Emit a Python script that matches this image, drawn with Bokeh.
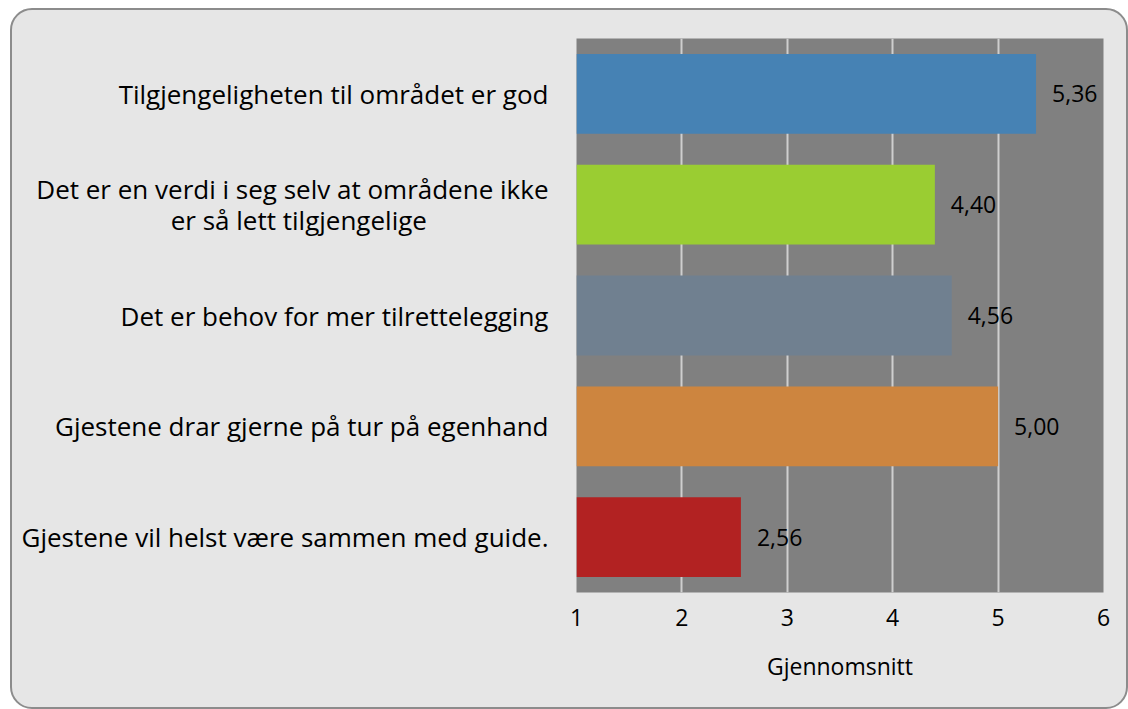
from bokeh.plotting import figure
from bokeh.models import Range1d, FixedTicker, ColumnDataSource
from bokeh.core.properties import value
from bokeh.embed import file_html
from bokeh.resources import INLINE

# ---- data (top to bottom) ----
statements = [
    "Tilgjengeligheten til området er god",
    "Det er en verdi i seg selv at områdene ikke\ner så lett tilgjengelige",
    "Det er behov for mer tilrettelegging",
    "Gjestene drar gjerne på tur på egenhand",
    "Gjestene vil helst være sammen med guide.",
]
means = [5.36, 4.40, 4.56, 5.00, 2.56]
mean_labels = ["5,36", "4,40", "4,56", "5,00", "2,56"]
bar_colors = ["#4682B4", "#9ACD32", "#708090", "#CD853F", "#B22222"]
x_ticks = [1, 2, 3, 4, 5, 6]
x_title = "Gjennomsnitt"

FONT = "Open Sans"
FS = "23px"
FS_CAT = "26px"

n = len(statements)
ypos = [n - i - 0.5 for i in range(n)]


def center_lines(label, pad_per_char=0.95):
    # pad shorter lines with no-break spaces so they appear centred under the longest line
    lines = label.split("\n")
    if len(lines) == 1:
        return label
    longest = max(len(l) for l in lines)
    out = []
    for l in lines:
        k = int(round((longest - len(l)) * pad_per_char))
        out.append(l + "\u00a0" * k)
    return "\n".join(out)


src = ColumnDataSource(dict(y=ypos, right=means, color=bar_colors, lab=mean_labels))

p = figure(width=1118, height=701, output_backend="svg", toolbar_location=None,
           x_range=Range1d(1, 6), y_range=Range1d(0, n),
           min_border_left=564, min_border_right=27, min_border_top=28, min_border_bottom=119)

p.styles = {"background-color": "#e6e6e6", "border": "2px solid #8c8c8c",
            "border-radius": "22px", "margin-left": "10px", "margin-top": "8px",
            "overflow": "hidden"}
p.border_fill_color = None
p.background_fill_color = "#808080"
p.outline_line_color = None

p.hbar(y="y", left=1, right="right", height=0.72, color="color", line_color=None, source=src)
p.text(x="right", y="y", text="lab", x_offset=16, text_baseline="middle", text_align="left",
       text_font=value(FONT), text_font_size=FS, text_color="#000000", source=src)

# grid
p.xgrid.ticker = FixedTicker(ticks=x_ticks)
p.xgrid.grid_line_color = "#cfcfcf"
p.xgrid.grid_line_width = 2
p.ygrid.grid_line_color = None

# x axis
ax = p.xaxis[0]
ax.ticker = FixedTicker(ticks=x_ticks)
ax.axis_line_color = None
ax.major_tick_line_color = None
ax.minor_tick_line_color = None
ax.major_tick_out = 0
ax.major_tick_in = 0
ax.major_label_standoff = 16
ax.major_label_text_font = FONT
ax.major_label_text_font_size = FS
ax.major_label_text_color = "#000000"
ax.axis_label = x_title
ax.axis_label_standoff = 21
ax.axis_label_text_font = FONT
ax.axis_label_text_font_size = FS
ax.axis_label_text_font_style = "normal"
ax.axis_label_text_color = "#000000"

# y axis with statements
ay = p.yaxis[0]
ay.ticker = FixedTicker(ticks=ypos)
ay.major_label_overrides = {y: center_lines(s) for y, s in zip(ypos, statements)}
ay.axis_line_color = None
ay.major_tick_line_color = None
ay.minor_tick_line_color = None
ay.major_tick_out = 0
ay.major_tick_in = 0
ay.major_label_standoff = 28
ay.major_label_text_font = FONT
ay.major_label_text_font_size = FS_CAT
ay.major_label_text_color = "#000000"
ay.major_label_text_line_height = 0.85

open("out.html", "w").write(file_html(p, INLINE))
